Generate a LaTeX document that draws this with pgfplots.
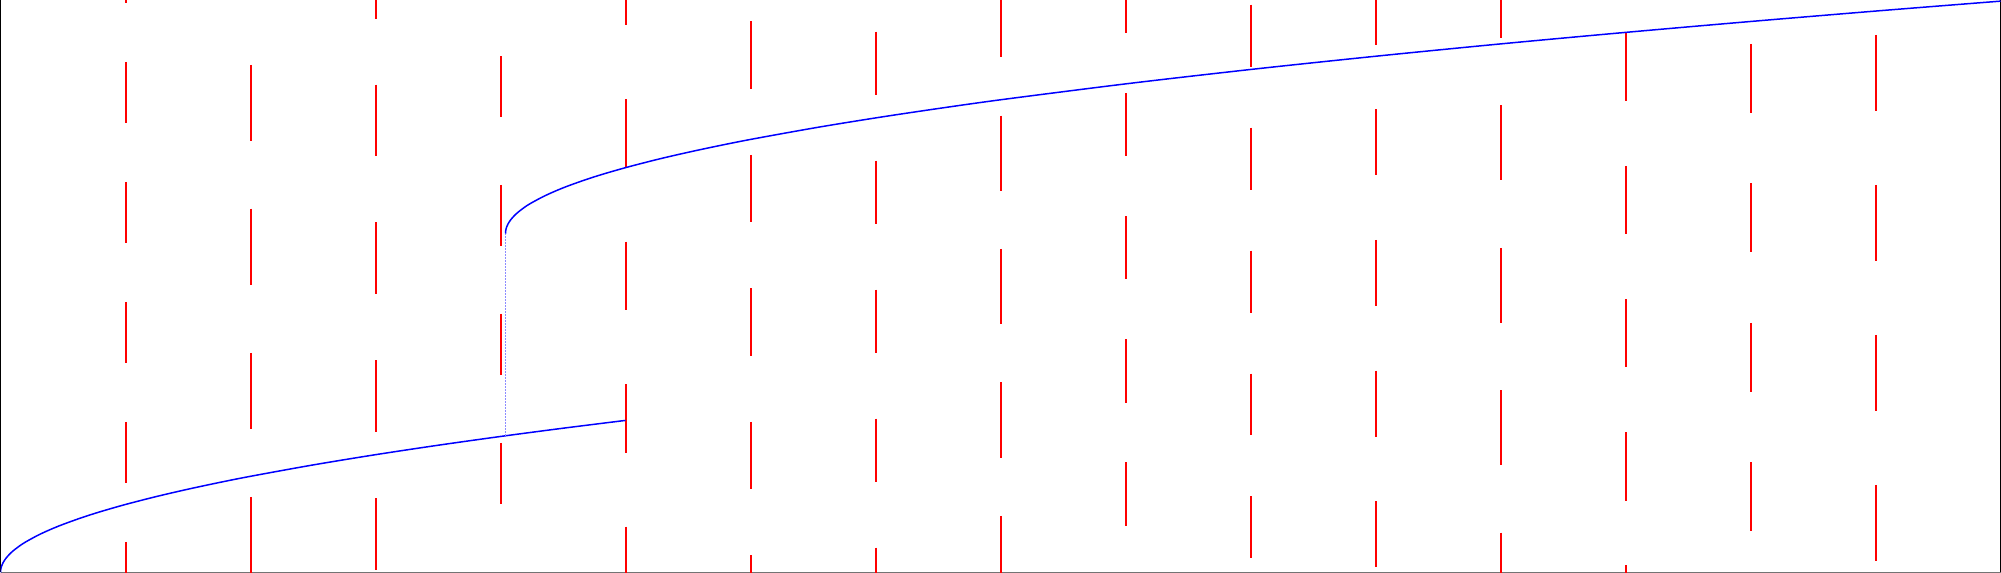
\documentclass[border=0pt]{standalone}
\usepackage{pgfplots}
\pgfplotsset{compat=1.18}

\begin{document}
\begin{tikzpicture}
\begin{axis}[
	width=600pt, height=171.6pt, scale only axis,
	xmin=0, xmax=16, ymin=0, ymax=8.4118,
	axis x line=bottom, axis y line=box,
	axis line style={-, line width=0.3pt},
	x axis line style={black!55},
	ticks=none,
	unbounded coords=jump,
]
% red dashed columns, one dash per segment, nan = gap
\addplot[red, line width=0.6pt] coordinates {
	(1,9.274) (1,8.374) (1,nan) (1,7.509) (1,6.609) (1,nan) (1,5.744) (1,4.844) (1,nan)
	(1,3.979) (1,3.079) (1,nan) (1,2.215) (1,1.315) (1,nan) (1,0.450) (1,-0.450) (1,nan)
	(2,7.466) (2,6.347) (2,nan) (2,5.349) (2,4.229) (2,nan) (2,3.231) (2,2.112) (2,nan)
	(2,1.113) (2,-0.050) (2,nan)
	(3,9.204) (3,8.146) (3,nan) (3,7.176) (3,6.118) (3,nan) (3,5.149) (3,4.090) (3,nan)
	(3,3.121) (3,2.062) (3,nan) (3,1.093) (3,0.034) (3,nan)
	(4,7.594) (4,6.693) (4,nan) (4,5.699) (4,4.797) (4,nan) (4,3.803) (4,2.902) (4,nan)
	(4,1.907) (4,1.006) (4,nan)
	(5,9.056) (5,8.049) (5,nan) (5,6.960) (5,5.953) (5,nan) (5,4.865) (5,3.857) (5,nan)
	(5,2.769) (5,1.762) (5,nan) (5,0.674) (5,-0.334) (5,nan)
	(6,8.106) (6,7.116) (6,nan) (6,6.143) (6,5.153) (6,nan) (6,4.179) (6,3.190) (6,nan)
	(6,2.216) (6,1.226) (6,nan) (6,0.253) (6,-0.737) (6,nan)
	(7,7.954) (7,7.024) (7,nan) (7,6.057) (7,5.127) (7,nan) (7,4.160) (7,3.229) (7,nan)
	(7,2.263) (7,1.332) (7,nan) (7,0.366) (7,-0.565) (7,nan)
	(8,8.681) (8,7.574) (8,nan) (8,6.719) (8,5.612) (8,nan) (8,4.757) (8,3.650) (8,nan)
	(8,2.796) (8,1.688) (8,nan) (8,0.834) (8,-0.274) (8,nan)
	(9,8.862) (9,7.929) (9,nan) (9,7.051) (9,6.119) (9,nan) (9,5.241) (9,4.309) (9,nan)
	(9,3.431) (9,2.499) (9,nan) (9,1.621) (9,0.688) (9,nan)
	(10,8.349) (10,7.437) (10,nan) (10,6.541) (10,5.629) (10,nan) (10,4.734) (10,3.822) (10,nan)
	(10,2.926) (10,2.015) (10,nan) (10,1.119) (10,0.207) (10,nan)
	(11,8.731) (11,7.760) (11,nan) (11,6.810) (11,5.840) (11,nan) (11,4.890) (11,3.919) (11,nan)
	(11,2.969) (11,1.999) (11,nan) (11,1.049) (11,0.078) (11,nan)
	(12,8.963) (12,7.860) (12,nan) (12,6.869) (12,5.766) (12,nan) (12,4.775) (12,3.672) (12,nan)
	(12,2.681) (12,1.578) (12,nan) (12,0.587) (12,-0.516) (12,nan)
	(13,7.938) (13,6.934) (13,nan) (13,5.979) (13,4.975) (13,nan) (13,4.021) (13,3.016) (13,nan)
	(13,2.062) (13,1.057) (13,nan) (13,0.103) (13,-0.901) (13,nan)
	(14,7.772) (14,6.759) (14,nan) (14,5.721) (14,4.707) (14,nan) (14,3.669) (14,2.656) (14,nan)
	(14,1.618) (14,0.604) (14,nan)
	(15,7.906) (15,6.785) (15,nan) (15,5.700) (15,4.579) (15,nan) (15,3.494) (15,2.374) (15,nan)
	(15,1.288) (15,0.168)
};
% lower branch
\addplot[blue, line width=0.45pt, smooth] coordinates {
	(0,0) (0.002,0.0447) (0.005,0.0707) (0.01,0.1) (0.02,0.1414) (0.04,0.2)
	(0.07,0.2646) (0.1,0.3162) (0.15,0.3873) (0.2,0.4472) (0.3,0.5477) (0.4,0.6325)
	(0.5,0.7071) (0.65,0.8062) (0.8,0.8944) (1,1) (1.25,1.118) (1.5,1.2247)
	(1.75,1.3229) (2,1.4142) (2.5,1.5811) (3,1.7321) (3.5,1.8708) (4,2)
	(4.5,2.1213) (5,2.2361)
};
% jump
\addplot[blue!45, line width=0.4pt, dash pattern=on 0.4pt off 0.5pt] coordinates {
	(4.04,2.01) (4.04,4.985)
};
% upper branch
\addplot[blue, line width=0.45pt, smooth] coordinates {
	(4.04,4.985) (4.042,5.029) (4.045,5.055) (4.05,5.084) (4.06,5.125) (4.08,5.183)
	(4.11,5.246) (4.14,5.297) (4.19,5.368) (4.24,5.427) (4.34,5.526) (4.44,5.610)
	(4.54,5.684) (4.69,5.782) (4.84,5.869) (5.04,5.973) (5.29,6.090) (5.54,6.195)
	(5.79,6.292) (6.04,6.382) (6.54,6.547) (7.04,6.696) (7.54,6.833) (8.04,6.961)
	(9.04,7.194) (10.04,7.405) (11.04,7.599) (12.04,7.780) (13.04,7.949)
	(14.04,8.109) (15.04,8.262) (16,8.402)
};
\end{axis}
\end{tikzpicture}
\end{document}
